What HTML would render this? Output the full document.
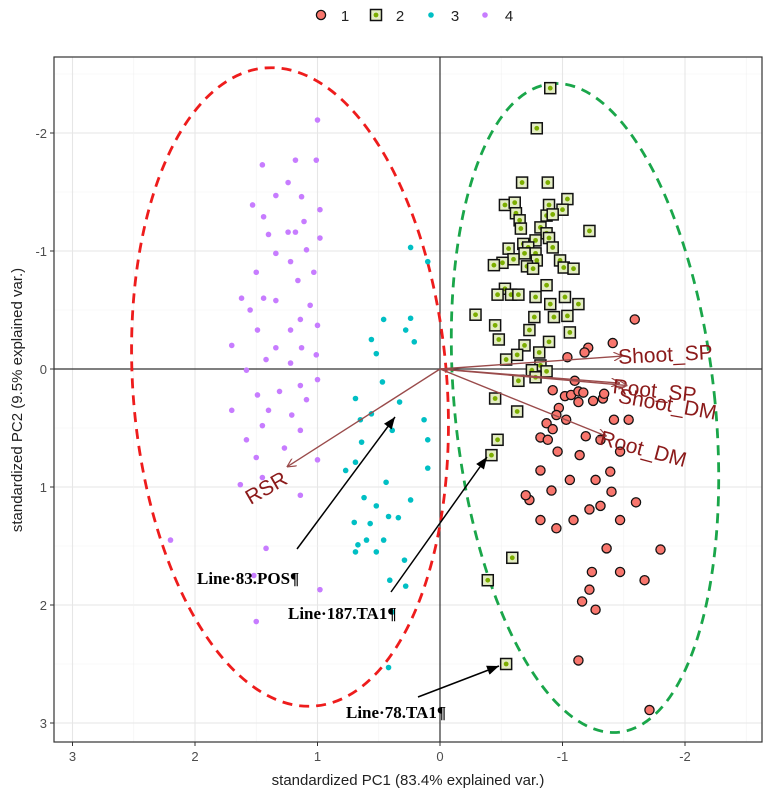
<!DOCTYPE html>
<html><head><meta charset="utf-8">
<style>
html,body{margin:0;padding:0;background:#fff;}
svg{display:block;font-family:"Liberation Sans",sans-serif;}
</style></head>
<body>
<svg id="chart" width="767" height="797" viewBox="0 0 767 797" xmlns="http://www.w3.org/2000/svg"></svg>
<script>
const xTicks = [3, 2, 1, 0, -1, -2];
const yTicks = [-2, -1, 0, 1, 2, 3];
const group1 = [[-1.59,-0.42],[-1.41,-0.22],[-1.21,-0.18],[-1.18,-0.14],[-1.04,-0.10],[-1.10,0.10],[-0.92,0.18],[-1.02,0.23],[-1.07,0.22],[-1.13,0.19],[-1.17,0.20],[-1.13,0.28],[-1.25,0.27],[-1.33,0.25],[-0.97,0.33],[-1.54,0.43],[-0.95,0.39],[-1.03,0.43],[-0.87,0.46],[-0.92,0.51],[-0.82,0.58],[-1.31,0.60],[-0.88,0.60],[-0.96,0.70],[-1.14,0.73],[-1.47,0.70],[-1.39,0.87],[-0.82,0.86],[-1.06,0.94],[-1.27,0.94],[-0.91,1.03],[-1.40,1.04],[-1.60,1.13],[-1.31,1.16],[-1.22,1.19],[-1.09,1.28],[-1.47,1.28],[-0.73,1.11],[-0.82,1.28],[-0.70,1.07],[-0.95,1.35],[-1.36,1.52],[-1.80,1.53],[-1.24,1.72],[-1.47,1.72],[-1.22,1.87],[-1.67,1.79],[-1.16,1.97],[-1.27,2.04],[-1.13,2.47],[-1.71,2.89],[-1.34,0.21],[-1.42,0.43],[-1.19,0.57]];
const group2 = [[-0.67,-1.58],[-0.88,-1.58],[-1.04,-1.44],[-0.53,-1.39],[-0.61,-1.41],[-0.89,-1.39],[-0.62,-1.32],[-0.65,-1.26],[-0.66,-1.19],[-1.00,-1.35],[-0.87,-1.30],[-0.92,-1.31],[-1.22,-1.17],[-0.82,-1.20],[-0.87,-1.15],[-0.89,-1.11],[-0.78,-1.09],[-0.68,-1.06],[-0.72,-1.03],[-0.92,-1.03],[-0.56,-1.02],[-0.78,-0.98],[-0.69,-0.98],[-0.60,-0.93],[-0.79,-0.92],[-0.51,-0.90],[-0.44,-0.88],[-0.71,-0.87],[-0.76,-0.85],[-0.98,-0.92],[-1.01,-0.86],[-1.09,-0.85],[-0.87,-0.71],[-0.53,-0.68],[-0.47,-0.63],[-0.58,-0.63],[-0.64,-0.63],[-0.78,-0.61],[-1.02,-0.61],[-0.90,-0.55],[-1.13,-0.55],[-0.29,-0.46],[-0.77,-0.44],[-0.93,-0.44],[-1.04,-0.45],[-0.45,-0.37],[-0.73,-0.33],[-1.06,-0.31],[-0.48,-0.25],[-0.89,-0.23],[-0.69,-0.20],[-0.81,-0.14],[-0.63,-0.12],[-0.54,-0.08],[-0.82,-0.03],[-0.75,0.01],[-0.87,0.02],[-0.78,0.07],[-0.64,0.10],[-0.45,0.25],[-0.63,0.36],[-0.90,-2.38],[-0.79,-2.04],[-0.47,0.60],[-0.42,0.73],[-0.59,1.60],[-0.39,1.79],[-0.54,2.50]];
const group3 = [[0.24,-1.03],[0.10,-0.91],[0.56,-0.25],[0.46,-0.42],[0.24,-0.43],[0.28,-0.33],[0.21,-0.23],[0.52,-0.13],[0.47,0.11],[0.69,0.25],[0.33,0.28],[0.56,0.38],[0.65,0.43],[0.13,0.43],[0.39,0.52],[0.64,0.62],[0.69,0.79],[0.77,0.86],[0.10,0.84],[0.44,0.96],[0.62,1.09],[0.52,1.16],[0.24,1.11],[0.70,1.30],[0.57,1.31],[0.42,1.25],[0.34,1.26],[0.60,1.45],[0.46,1.45],[0.67,1.49],[0.69,1.55],[0.52,1.55],[0.29,1.62],[0.41,1.79],[0.28,1.84],[0.39,2.06],[0.42,2.53],[0.10,0.60]];
const group4 = [[1.00,-2.11],[1.18,-1.77],[1.01,-1.77],[1.45,-1.73],[1.24,-1.58],[1.34,-1.47],[1.13,-1.46],[1.53,-1.39],[0.98,-1.35],[1.44,-1.29],[1.11,-1.25],[1.24,-1.16],[1.18,-1.16],[1.40,-1.14],[0.98,-1.11],[1.09,-1.01],[1.34,-0.98],[1.22,-0.91],[1.50,-0.82],[1.03,-0.82],[1.16,-0.75],[1.62,-0.60],[1.44,-0.60],[1.34,-0.58],[1.06,-0.54],[1.55,-0.50],[1.14,-0.42],[1.00,-0.37],[1.22,-0.33],[1.49,-0.33],[1.70,-0.20],[1.34,-0.18],[1.13,-0.18],[1.01,-0.12],[1.42,-0.08],[1.22,-0.05],[1.58,0.01],[1.00,0.09],[1.14,0.14],[1.31,0.19],[1.49,0.22],[1.09,0.26],[1.70,0.35],[1.40,0.35],[1.21,0.39],[1.45,0.48],[1.14,0.52],[1.58,0.60],[1.27,0.67],[1.50,0.75],[1.00,0.77],[1.63,0.98],[1.45,0.92],[1.14,1.07],[2.20,1.45],[1.42,1.52],[1.52,1.75],[1.50,2.14],[0.98,1.87]];
const loadingNames = ["Shoot_SP","Root_SP","Shoot_DM","Root_DM","RSR"];
const loadingPC1 = [-1.49,-1.47,-1.53,-1.36,1.25];
const loadingPC2 = [-0.11,0.12,0.14,0.57,0.83];

const NS = "http://www.w3.org/2000/svg";
const svg = document.getElementById('chart');
const L=54, R=762, T=57, B=742;
function sx(v){ return 440 - 122.5*v; }
function sy(v){ return 369 + 118*v; }
function mk(tag, attrs, parent){ const e=document.createElementNS(NS,tag); for(const k in attrs) e.setAttribute(k,attrs[k]); (parent||svg).appendChild(e); return e; }

const panel = mk('rect',{x:L,y:T,width:R-L,height:B-T,fill:'#fff'});


const grid = mk('g',{});


for(let v=-2.5; v<=3.5; v+=0.5){
  const major = Number.isInteger(v);
  const x = sx(v); if(x>L && x<R) mk('line',{x1:x,x2:x,y1:T,y2:B,stroke:major?'#e6e6e6':'#f2f2f2','stroke-width':major?1.1:0.6},grid);
  const y = sy(v); if(y>T && y<B) mk('line',{x1:L,x2:R,y1:y,y2:y,stroke:major?'#e6e6e6':'#f2f2f2','stroke-width':major?1.1:0.6},grid);
}
const zx = mk('line',{x1:sx(0),x2:sx(0),y1:T,y2:B,stroke:'#333','stroke-width':1.2});
 
const zy = mk('line',{x1:L,x2:R,y1:sy(0),y2:sy(0),stroke:'#333','stroke-width':1.2});
 

const e1 = mk('ellipse',{cx:290,cy:387,rx:157,ry:320,fill:'none',stroke:'#ee1c1c','stroke-width':2.8,'stroke-dasharray':'10 7',transform:'rotate(-4.4 290 387)'});
 
const e2 = mk('ellipse',{cx:585,cy:408,rx:130,ry:326,fill:'none',stroke:'#1aa64a','stroke-width':2.8,'stroke-dasharray':'10 7',transform:'rotate(-6 585 408)'});
 

const g4 = mk('g',{});  
group4.forEach(p=>{ const c=mk('circle',{cx:sx(p[0]),cy:sy(p[1]),r:2.8,fill:'#c77cff'},g4);
    });
const g3 = mk('g',{});  
group3.forEach(p=>{ const c=mk('circle',{cx:sx(p[0]),cy:sy(p[1]),r:2.8,fill:'#00bfc4'},g3);
    });
const g1 = mk('g',{});  
group1.forEach(p=>{ const c=mk('circle',{cx:sx(p[0]),cy:sy(p[1]),r:4.6,fill:'#f8766d',stroke:'#111','stroke-width':1.3},g1);
    });
const g2 = mk('g',{});  
group2.forEach(p=>{ const x=sx(p[0]), y=sy(p[1]);
  const s=mk('rect',{x:x-5.5,y:y-5.5,width:11,height:11,fill:'#e4edc4',stroke:'#111','stroke-width':1.5},g2);
   
  mk('circle',{cx:x,cy:y,r:2.4,fill:'#7cae00'},g2); });

const defs = mk('defs',{});
const m1 = mk('marker',{id:'ah',viewBox:'0 0 10 10',refX:10,refY:5,markerWidth:9,markerHeight:9,orient:'auto-start-reverse',markerUnits:'userSpaceOnUse'},defs);
mk('path',{d:'M0,0 L10,5 L0,10',fill:'none',stroke:'#9a4b4b','stroke-width':1.3},m1);
const m2 = mk('marker',{id:'bh',viewBox:'0 0 10 10',refX:10,refY:5,markerWidth:12,markerHeight:12,orient:'auto',markerUnits:'userSpaceOnUse'},defs);
mk('path',{d:'M0,1 L10,5 L0,9 z',fill:'#000'},m2);
const lab = [[ -3,-4, 8],[ 6,-8,10],[10,-10,17],[15,-8,8],[-30,0,0]];
const lg = mk('g',{});  
loadingNames.forEach((n,i)=>{
  const x=sx(loadingPC1[i]), y=sy(loadingPC2[i]);
  const a=mk('line',{x1:sx(0),y1:sy(0),x2:x,y2:y,stroke:'#9a4b4b','stroke-width':1.4,'marker-end':'url(#ah)'},lg);
   
  let tx, ty, anchor;
  if(i===4){ tx=x+2; ty=y+16; anchor='end'; } else { tx=x+lab[i][1]; ty=y+lab[i][2]; anchor='start'; }
  const t=mk('text',{x:tx,y:ty,fill:'#8b1a1a','font-size':21,'text-anchor':anchor,transform:`rotate(${lab[i][0]} ${tx} ${ty})`},lg);
  t.textContent=n;
   
});

const ann = [["Line·83.POS¶",197,584,297,549,395,417],["Line·187.TA1¶",288,619,391,592,487,457],["Line·78.TA1¶",346,718,418,697,499,666]];
ann.forEach(a=>{
  const l=mk('line',{x1:a[3],y1:a[4],x2:a[5],y2:a[6],stroke:'#000','stroke-width':1.5,'marker-end':'url(#bh)'});
   
  const t=mk('text',{x:a[1],y:a[2],'font-family':'"Liberation Serif",serif','font-weight':'bold','font-size':17,fill:'#000'});
  t.textContent=a[0];
   
});

const bd = mk('rect',{x:L,y:T,width:R-L,height:B-T,fill:'none',stroke:'#333','stroke-width':1.2});
 

const xa = mk('g',{});  
xTicks.forEach(v=>{ const x=sx(v);
  mk('line',{x1:x,x2:x,y1:B,y2:B+4,stroke:'#333'},xa);
  const t=mk('text',{x:x,y:B+19,'text-anchor':'middle','font-size':13,fill:'#4d4d4d'},xa);
  t.textContent = v<0 ? '-'+(-v) : String(v);
    });
const ya = mk('g',{});  
yTicks.forEach(v=>{ const y=sy(v);
  mk('line',{x1:L-4,x2:L,y1:y,y2:y,stroke:'#333'},ya);
  const t=mk('text',{x:L-7,y:y+5,'text-anchor':'end','font-size':13,fill:'#4d4d4d'},ya);
  t.textContent = v<0 ? '-'+(-v) : String(v);
    });
const xt = mk('text',{x:408,y:785,'text-anchor':'middle','font-size':15,fill:'#222'});
xt.textContent='standardized PC1 (83.4% explained var.)';
 
const yt = mk('text',{x:22,y:400,'text-anchor':'middle','font-size':15,fill:'#222',transform:'rotate(-90 22 400)'});
yt.textContent='standardized PC2 (9.5% explained var.)';
 

const leg = mk('g',{});  
const legLabels = ["1","2","3","4"];
const legX = [321,376,431,485];
legLabels.forEach((s,i)=>{
  const x=legX[i], y=15;
  const e=mk('g',{},leg);  
  if(i===0) mk('circle',{cx:x,cy:y,r:4.6,fill:'#f8766d',stroke:'#111','stroke-width':1.3},e);
  if(i===1){ mk('rect',{x:x-5.5,y:y-5.5,width:11,height:11,fill:'#e4edc4',stroke:'#111','stroke-width':1.5},e); mk('circle',{cx:x,cy:y,r:2.4,fill:'#7cae00'},e); }
  if(i===2) mk('circle',{cx:x,cy:y,r:2.8,fill:'#00bfc4'},e);
  if(i===3) mk('circle',{cx:x,cy:y,r:2.8,fill:'#c77cff'},e);
  const t=mk('text',{x:x+24,y:y+6,'text-anchor':'middle','font-size':15,fill:'#222'},e); t.textContent=s;
});
</script>
</body></html>
